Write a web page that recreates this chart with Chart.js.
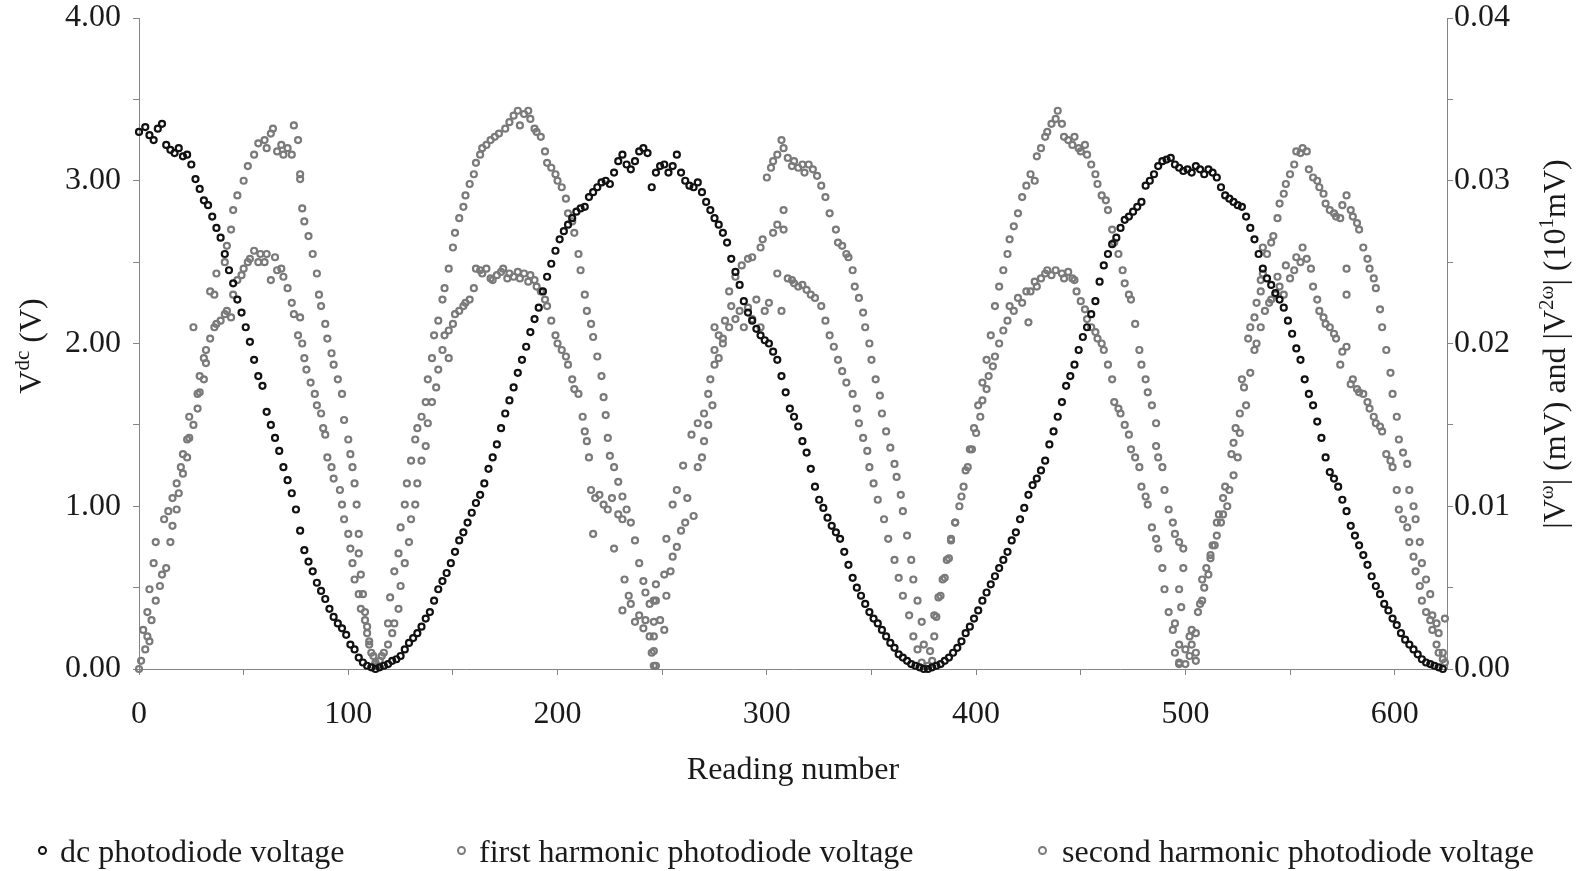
<!DOCTYPE html>
<html>
<head>
<meta charset="utf-8">
<script src="https://cdn.jsdelivr.net/npm/chart.js@4.4.1/dist/chart.umd.min.js"></script>
<style>
    body { margin: 0; background: #fff; }
    #wrap { position: relative; width: 1584px; height: 871px; }
    .leg { position: absolute; top: 831px; font-family: "Liberation Serif", serif; font-size: 32px; line-height: 40px; color: #1a1a1a; white-space: nowrap; }
    .mark { position: absolute; top: 846px; width: 5px; height: 5px; border: 2.2px solid; border-radius: 50%; }
</style>
</head>
<body>
<div id="wrap">
    <canvas id="graficoLeituras" width="1584" height="871"></canvas>
    <div class="mark" style="left:38px;border-color:#111"></div>
    <div class="leg" style="left:60px">dc photodiode voltage</div>
    <div class="mark" style="left:457px;border-color:#7a7a7a"></div>
    <div class="leg" style="left:479px">first harmonic photodiode voltage</div>
    <div class="mark" style="left:1038px;border-color:#7a7a7a"></div>
    <div class="leg" style="left:1062px">second harmonic photodiode voltage</div>
</div>
<script>
// leituras: [reading number, value]
const dcVoltage = [
    [0,3.30],[3,3.33],[5,3.28],[7,3.25],[9,3.32],[11,3.35],[13,3.22],[15,3.19],[17,3.17],[19,3.20],
    [21,3.15],[23,3.16],[25,3.10],[27,3.01],[29,2.95],[31,2.88],[33,2.85],[35,2.78],[37,2.71],[39,2.65],
    [41,2.55],[43,2.45],[45,2.37],[47,2.27],[49,2.19],[51,2.10],[53,2.01],[55,1.90],[57,1.80],[59,1.74],
    [61,1.58],[63,1.50],[65,1.42],[67,1.34],[69,1.24],[71,1.16],[73,1.08],[75,0.98],[77,0.85],[79,0.73],
    [81,0.66],[83,0.60],[85,0.53],[87,0.48],[89,0.43],[91,0.37],[93,0.32],[95,0.28],[97,0.25],[99,0.21],
    [101,0.15],[103,0.12],[105,0.07],[107,0.04],[109,0.02],[111,0.01],[113,0.00],[115,0.01],[117,0.02],[119,0.03],
    [121,0.05],[123,0.06],[125,0.08],[127,0.12],[129,0.16],[131,0.19],[133,0.22],[135,0.26],[137,0.31],[139,0.35],
    [141,0.42],[143,0.49],[145,0.54],[147,0.59],[149,0.65],[151,0.72],[153,0.79],[155,0.84],[157,0.90],[159,0.96],
    [161,1.02],[163,1.07],[165,1.14],[167,1.23],[169,1.30],[171,1.38],[173,1.48],[175,1.57],[177,1.65],[179,1.73],
    [181,1.82],[183,1.90],[185,1.98],[187,2.07],[189,2.15],[191,2.22],[193,2.32],[195,2.41],[197,2.49],[199,2.57],
    [201,2.64],[203,2.69],[205,2.73],[207,2.77],[209,2.81],[211,2.83],[213,2.84],[215,2.90],[217,2.93],[219,2.96],
    [221,2.99],[223,3.00],[225,2.98],[227,3.05],[229,3.12],[231,3.16],[233,3.10],[235,3.07],[237,3.12],[239,3.18],
    [241,3.20],[243,3.17],[245,2.96],[247,3.05],[249,3.09],[251,3.10],[253,3.05],[255,3.09],[257,3.16],[259,3.05],
    [261,3.00],[263,2.97],[265,2.96],[267,2.99],[269,2.93],[271,2.87],[273,2.82],[275,2.77],[277,2.73],[279,2.68],
    [281,2.62],[283,2.52],[285,2.44],[287,2.36],[289,2.26],[291,2.19],[293,2.14],[295,2.09],[297,2.05],[299,2.02],
    [301,2.00],[303,1.95],[305,1.90],[307,1.80],[309,1.70],[311,1.60],[313,1.55],[315,1.49],[317,1.40],[319,1.33],
    [321,1.23],[323,1.12],[325,1.04],[327,0.99],[329,0.93],[331,0.88],[333,0.84],[335,0.80],[337,0.72],[339,0.64],
    [341,0.56],[343,0.50],[345,0.45],[347,0.40],[349,0.35],[351,0.31],[353,0.28],[355,0.24],[357,0.20],[359,0.16],
    [361,0.13],[363,0.09],[365,0.07],[367,0.05],[369,0.03],[371,0.02],[373,0.01],[375,0.00],[377,0.00],[379,0.01],
    [381,0.02],[383,0.03],[385,0.05],[387,0.07],[389,0.10],[391,0.13],[393,0.17],[395,0.22],[397,0.26],[399,0.31],
    [401,0.36],[403,0.42],[405,0.47],[407,0.52],[409,0.57],[411,0.62],[413,0.67],[415,0.72],[417,0.79],[419,0.84],
    [421,0.92],[423,0.99],[425,1.07],[427,1.13],[429,1.17],[431,1.22],[433,1.28],[435,1.38],[437,1.46],[439,1.55],
    [441,1.64],[443,1.74],[445,1.80],[447,1.87],[449,1.96],[451,2.04],[453,2.10],[455,2.18],[457,2.26],[459,2.38],
    [461,2.48],[463,2.55],[465,2.61],[467,2.65],[469,2.71],[471,2.76],[473,2.78],[475,2.81],[477,2.84],[479,2.87],
    [481,2.97],[483,3.00],[485,3.04],[487,3.09],[489,3.12],[491,3.13],[493,3.14],[495,3.10],[497,3.08],[499,3.06],
    [501,3.07],[503,3.05],[505,3.09],[507,3.07],[509,3.04],[511,3.07],[513,3.05],[515,3.02],[517,2.96],[519,2.91],
    [521,2.89],[523,2.87],[525,2.85],[527,2.84],[529,2.78],[531,2.71],[533,2.64],[535,2.55],[537,2.46],[539,2.40],
    [541,2.36],[543,2.31],[545,2.27],[547,2.22],[549,2.14],[551,2.06],[553,1.97],[555,1.90],[557,1.78],[559,1.69],
    [561,1.62],[563,1.52],[565,1.42],[567,1.30],[569,1.21],[571,1.17],[573,1.12],[575,1.04],[577,0.97],[579,0.88],
    [581,0.82],[583,0.76],[585,0.70],[587,0.64],[589,0.57],[591,0.51],[593,0.46],[595,0.40],[597,0.36],[599,0.31],
    [601,0.27],[603,0.22],[605,0.18],[607,0.15],[609,0.12],[611,0.09],[613,0.06],[615,0.04],[617,0.03],[619,0.02],
    [621,0.01],[623,0.00]
];

const firstHarmonic = [
    [0,.0000],[2,.0024],[4,.0035],[5,.0049],[7,.0065],[8,.0078],[12,.0092],[14,.0097],[16,.0105],[18,.0114],
    [20,.0124],[21,.0132],[23,.0141],[24,.0155],[28,.0169],[29,.0180],[31,.0191],[32,.0196],[34,.0203],[36,.0230],
    [37,.0243],[41,.0250],[42,.0260],[44,.0270],[45,.0282],[47,.0291],[50,.0300],[52,.0309],[55,.0316],[57,.0323],
    [60,.0325],[61,.0320],[63,.0329],[64,.0332],[66,.0318],[68,.0322],[69,.0316],[71,.0320],[73,.0316],[74,.0334],
    [76,.0325],[77,.0304],[77,.0301],[78,.0283],[79,.0275],[81,.0266],[83,.0255],[85,.0243],[86,.0230],[87,.0223],
    [89,.0212],[90,.0203],[92,.0194],[93,.0187],[95,.0178],[97,.0169],[98,.0153],[100,.0141],[101,.0132],[102,.0124],
    [103,.0114],[104,.0101],[105,.0083],[105,.0071],[106,.0058],[107,.0046],[108,.0035],[109,.0026],[110,.0017],[111,.0010],
    [113,.0003],
    [115,.0005],[117,.0010],[119,.0028],[120,.0044],[122,.0060],[124,.0071],[125,.0087],[127,.0101],[128,.0114],[130,.0128],
    [132,.0141],[133,.0148],[135,.0155],[137,.0164],[138,.0178],[140,.0191],[141,.0205],[143,.0214],[145,.0227],[146,.0234],
    [148,.0246],[150,.0259],[151,.0268],[153,.0277],[155,.0284],[156,.0291],[158,.0298],[160,.0304],[161,.0311],[163,.0316],
    [164,.0320],[166,.0322],[168,.0325],[170,.0327],[172,.0329],[175,.0332],[177,.0336],[179,.0340],[181,.0343],[182,.0334],
    [184,.0341],[186,.0343],[187,.0338],[189,.0332],[190,.0330],[192,.0327],[194,.0318],[195,.0311],[197,.0308],[199,.0304],
    [200,.0300],[202,.0296],[204,.0289],[205,.0280],[207,.0275],[208,.0268],[210,.0255],[211,.0245],[213,.0230],[214,.0220],
    [216,.0212],[217,.0204],[219,.0192],[221,.0180],[222,.0167],[223,.0156],[224,.0142],[225,.0131],[227,.0124],[229,.0115],
    [231,.0106],[233,.0098],[235,.0090],[237,.0079],[239,.0065],[241,.0054],[242,.0047],[244,.0040],[246,.0029],[246,.0011],
    [247,.0002],
    [246,.0042],[247,.0052],[251,.0058],[252,.0080],[255,.0101],[257,.0110],[260,.0125],[264,.0144],[267,.0151],[270,.0157],
    [272,.0169],[273,.0178],[275,.0187],[277,.0191],[279,.0200],[282,.0232],[285,.0241],[288,.0248],[291,.0252],[293,.0253],
    [297,.0259],[298,.0264],[300,.0302],[302,.0308],[303,.0312],[305,.0316],[307,.0325],[308,.0320],[310,.0314],[312,.0309],
    [313,.0312],[315,.0308],[317,.0310],[318,.0305],[320,.0310],[322,.0307],[324,.0303],[326,.0297],[328,.0290],[330,.0280],
    [333,.0270],[334,.0262],[336,.0260],[338,.0255],[339,.0253],[341,.0245],[342,.0235],[344,.0228],[346,.0219],[347,.0210],
    [349,.0200],[350,.0190],[352,.0178],[354,.0168],[355,.0157],[357,.0146],[359,.0136],[361,.0126],[362,.0118],[364,.0107],
    [365,.0097],[367,.0082],[369,.0067],[370,.0055],[372,.0042],[374,.0029],[375,.0015],[377,.0002],
    [378,.0011],[380,.0020],[381,.0032],[383,.0045],[385,.0056],[387,.0068],[388,.0080],[390,.0090],[393,.0106],[395,.0122],
    [397,.0135],[399,.0148],[401,.0162],[403,.0176],[405,.0190],[407,.0205],[409,.0223],[411,.0235],[413,.0245],[415,.0255],
    [416,.0264],[418,.0272],[420,.0280],[422,.0290],[424,.0297],[426,.0304],[428,.0300],[429,.0315],[431,.0320],[433,.0327],
    [434,.0330],[436,.0335],[438,.0338],[439,.0343],[441,.0335],[442,.0327],[444,.0325],[446,.0322],[447,.0327],[449,.0320],
    [450,.0318],[452,.0322],[453,.0316],[455,.0310],[457,.0304],[458,.0298],[460,.0291],[462,.0288],[463,.0282],[465,.0270],
    [466,.0262],[468,.0255],[470,.0245],[471,.0237],[473,.0230],[474,.0227],[476,.0212],[478,.0196],[479,.0187],[481,.0178],
    [482,.0170],[484,.0162],[486,.0151],[486,.0137],[487,.0130],[489,.0124],[490,.0110],[492,.0098],[494,.0090],[495,.0083],
    [497,.0078],[499,.0074],[499,.0062],[497,.0049],[498,.0038],[495,.0028],[497,.0015],[497,.0003],
    [500,.0012],[502,.0020],[503,.0024],[505,.0005],[505,.0010],[507,.0040],[508,.0055],[510,.0062],[512,.0070],[513,.0076],
    [515,.0090],[516,.0095],[518,.0105],[519,.0112],[522,.0132],[523,.0139],[524,.0148],[526,.0157],[527,.0178],[530,.0203],
    [531,.0210],[533,.0216],[534,.0225],[536,.0232],[537,.0243],[539,.0255],[541,.0262],[542,.0266],[544,.0277],[545,.0286],
    [547,.0292],[548,.0298],[550,.0304],[552,.0310],[553,.0318],[555,.0317],[556,.0320],[558,.0318],[559,.0307],[561,.0302],
    [563,.0300],[564,.0296],[566,.0292],[567,.0286],[569,.0282],[571,.0280],[572,.0278],[574,.0277],[575,.0285],[577,.0291],
    [579,.0282],[580,.0278],[582,.0274],[583,.0270],[585,.0259],[587,.0252],[588,.0246],[590,.0240],[591,.0234],[593,.0221],
    [594,.0210],[596,.0196],[598,.0182],[599,.0169],[601,.0155],[602,.0141],[604,.0133],[606,.0126],[607,.0110],[609,.0100],
    [610,.0092],[612,.0078],[613,.0065],[615,.0055],[617,.0046],[618,.0033],[620,.0028],[621,.0022],[623,.0010],[624,.0004]
];

const secondHarmonic = [
    [1,.0005],[3,.0012],[4,.0020],[5,.0017],[6,.0030],[8,.0042],[10,.0051],[11,.0058],[13,.0062],[15,.0078],
    [16,.0088],[18,.0098],[19,.0108],[21,.0120],[23,.0130],[24,.0142],[26,.0150],[26,.0210],[28,.0160],[29,.0170],
    [31,.0178],[32,.0188],[34,.0232],[36,.0210],[37,.0212],[39,.0214],[41,.0218],[42,.0220],[44,.0216],[45,.0230],
    [47,.0239],[49,.0242],[50,.0246],[52,.0250],[53,.0252],[55,.0257],[57,.0250],[58,.0255],[60,.0250],[61,.0255],
    [63,.0239],[65,.0253],[66,.0245],[68,.0246],[69,.0241],[71,.0234],[73,.0225],[74,.0218],[76,.0205],[77,.0216],
    [78,.0200],[79,.0191],[80,.0184],[82,.0176],[84,.0169],[85,.0162],[87,.0157],[88,.0148],[89,.0144],[90,.0130],
    [92,.0124],[93,.0117],[96,.0110],[97,.0101],[98,.0092],[100,.0083],[101,.0074],[102,.0065],[103,.0055],[105,.0046],
    [106,.0037],[108,.0030],[109,.0022],[110,.0015],[112,.0008],[113,.0004],[114,.0002],
    [116,.0008],[119,.0015],[121,.0022],[122,.0028],[124,.0037],[125,.0051],[127,.0065],[129,.0078],[130,.0092],[132,.0101],
    [133,.0114],[135,.0128],[137,.0137],[138,.0151],[140,.0164],[142,.0173],[143,.0184],[145,.0196],[146,.0205],[148,.0191],
    [148,.0208],[150,.0212],[151,.0218],[153,.0220],[155,.0223],[156,.0225],[158,.0227],[160,.0234],[161,.0246],[163,.0245],
    [164,.0243],[166,.0246],[168,.0240],[169,.0239],[171,.0242],[173,.0244],[174,.0246],[176,.0240],[177,.0243],[179,.0241],
    [181,.0244],[182,.0240],[184,.0243],[186,.0238],[187,.0242],[189,.0239],[190,.0235],[192,.0232],[194,.0227],[195,.0223],
    [197,.0214],[199,.0205],[200,.0200],[202,.0196],[204,.0192],[205,.0187],[207,.0178],[208,.0172],[210,.0169],[212,.0155],
    [213,.0146],[214,.0140],[215,.0130],[216,.0110],[217,.0083],[218,.0105],[220,.0107],[222,.0101],[224,.0098],[226,.0105],
    [227,.0074],[229,.0095],[231,.0092],[231,.0036],[232,.0055],[234,.0045],[235,.0040],[237,.0029],[239,.0033],[241,.0025],
    [242,.0030],[244,.0020],[245,.0010],[246,.0002],
    [246,.0020],[247,.0042],[249,.0030],[251,.0024],[252,.0045],[254,.0060],[255,.0069],[257,.0075],[259,.0085],[261,.0090],
    [262,.0105],[265,.0094],[267,.0124],[269,.0130],[270,.0140],[272,.0150],[274,.0162],[275,.0196],[275,.0210],[277,.0205],
    [279,.0203],[280,.0214],[282,.0210],[283,.0223],[285,.0215],[287,.0220],[289,.0210],[291,.0222],[293,.0215],[295,.0227],
    [297,.0210],[299,.0220],[301,.0225],[303,.0268],[305,.0273],[305,.0243],[307,.0220],[308,.0270],[308,.0282],[310,.0240],
    [312,.0239],[313,.0237],[315,.0235],[317,.0236],[319,.0233],[321,.0230],[323,.0228],[326,.0223],[328,.0214],[330,.0205],
    [332,.0198],[334,.0190],[336,.0183],[338,.0176],[341,.0169],[343,.0160],[344,.0151],[346,.0142],[348,.0134],[349,.0124],
    [351,.0114],[353,.0104],[356,.0092],[358,.0080],[361,.0067],[363,.0056],[365,.0045],[368,.0033],[370,.0020],[372,.0012],
    [374,.0004],
    [379,.0005],[380,.0033],[382,.0044],[384,.0055],[386,.0067],[388,.0079],[390,.0090],[392,.0100],[394,.0112],[396,.0124],
    [398,.0135],[400,.0145],[402,.0155],[403,.0165],[405,.0172],[406,.0180],[408,.0186],[409,.0192],[411,.0200],[413,.0208],
    [415,.0214],[416,.0223],[418,.0220],[420,.0228],[422,.0225],[424,.0232],[425,.0213],[426,.0232],[428,.0238],[429,.0235],
    [431,.0240],[433,.0243],[434,.0245],[436,.0242],[438,.0245],[441,.0243],[442,.0240],[444,.0244],[446,.0240],[447,.0239],
    [448,.0232],[450,.0226],[452,.0221],[453,.0215],[455,.0210],[457,.0207],[458,.0203],[460,.0200],[461,.0196],[463,.0187],
    [465,.0178],[466,.0164],[468,.0160],[469,.0157],[471,.0150],[473,.0144],[474,.0135],[476,.0130],[478,.0124],[479,.0112],
    [481,.0106],[482,.0101],[484,.0087],[486,.0080],[487,.0074],[489,.0062],[490,.0049],[492,.0035],[494,.0024],[495,.0010],
    [497,.0004],
    [500,.0003],[502,.0008],[503,.0015],[505,.0022],[506,.0035],[508,.0042],[509,.0050],[511,.0058],[512,.0068],[514,.0076],
    [515,.0082],[517,.0090],[518,.0095],[520,.0100],[521,.0110],[523,.0119],[525,.0130],[526,.0145],[528,.0173],[529,.0162],
    [531,.0182],[533,.0196],[534,.0200],[536,.0239],[536,.0210],[537,.0259],[538,.0220],[540,.0225],[541,.0227],[543,.0230],
    [544,.0241],[545,.0235],[547,.0230],[548,.0248],[550,.0240],[552,.0245],[553,.0253],[555,.0250],[556,.0259],[558,.0252],
    [560,.0246],[561,.0235],[563,.0227],[564,.0220],[566,.0216],[567,.0212],[569,.0210],[571,.0206],[572,.0203],[574,.0187],
    [575,.0195],[577,.0198],[577,.0230],[577,.0246],[579,.0175],[580,.0178],[582,.0172],[583,.0170],[585,.0169],[587,.0164],
    [588,.0160],[590,.0155],[591,.0151],[593,.0149],[594,.0146],[596,.0132],[598,.0128],[599,.0124],[601,.0110],[602,.0098],
    [604,.0092],[606,.0087],[607,.0078],[609,.0069],[610,.0060],[612,.0051],[613,.0042],[615,.0035],[617,.0030],[618,.0024],
    [620,.0015],[621,.0010],[623,.0006],[624,.0031]
];

const leftTicks = [0, 1, 2, 3, 4];
const rightTicks = [0, 0.01, 0.02, 0.03, 0.04];
const readingTicks = [0, 100, 200, 300, 400, 500, 600];

const fonte = { family: 'Liberation Serif', size: 32 };
const corTexto = '#1a1a1a';
const corEixo = '#858585';

function pontos(lista) {
    return lista.map(p => ({ x: p[0], y: p[1] }));
}

// largura fixa do eixo y, sem folga extra em cima/baixo
function fixaLargura(largura) {
    return s => {
        s.width = largura;
        s.paddingTop = 0;
        s.paddingBottom = 0;
    };
}

// titulos dos eixos y com sobrescrito
function textoRico(ctx, partes, cx, cy) {
    let largura = 0;
    partes.forEach(p => {
        ctx.font = (p.sup ? 21 : 32) + 'px "Liberation Serif"';
        p.w = ctx.measureText(p.t).width;
        largura += p.w;
    });
    ctx.save();
    ctx.translate(cx, cy);
    ctx.rotate(-Math.PI / 2);
    ctx.fillStyle = corTexto;
    ctx.textBaseline = 'alphabetic';
    let x = -largura / 2;
    partes.forEach(p => {
        ctx.font = (p.sup ? 21 : 32) + 'px "Liberation Serif"';
        ctx.fillText(p.t, x, p.sup ? -1 : 11);
        x += p.w;
    });
    ctx.restore();
}

const titulosY = {
    id: 'titulosY',
    afterDraw(chart) {
        const ctx = chart.ctx;
        textoRico(ctx, [{ t: 'V' }, { t: 'dc', sup: true }, { t: ' (V)' }], 30, 346);
        textoRico(ctx, [
            { t: '|V' }, { t: 'ω', sup: true }, { t: '| (mV) and |V' }, { t: '2ω', sup: true },
            { t: '| (10' }, { t: '1', sup: true }, { t: 'mV)' }
        ], 1554, 344);
    }
};

new Chart(document.getElementById('graficoLeituras'), {
    type: 'scatter',
    data: {
        datasets: [{
            label: 'dc photodiode voltage',
            data: pontos(dcVoltage),
            yAxisID: 'y',
            borderColor: '#111',
            backgroundColor: 'rgba(0,0,0,0)',
            pointRadius: 3,
            borderWidth: 2.2,
            clip: false
        }, {
            label: 'first harmonic photodiode voltage',
            data: pontos(firstHarmonic),
            yAxisID: 'y1',
            borderColor: '#7a7a7a',
            backgroundColor: 'rgba(0,0,0,0)',
            pointRadius: 3,
            borderWidth: 2.2,
            clip: false
        }, {
            label: 'second harmonic photodiode voltage',
            data: pontos(secondHarmonic),
            yAxisID: 'y1',
            borderColor: '#7a7a7a',
            backgroundColor: 'rgba(0,0,0,0)',
            pointRadius: 3,
            borderWidth: 2.2,
            clip: false
        }]
    },
    options: {
        responsive: false,
        animation: false,
        devicePixelRatio: 1,
        layout: { padding: { top: 18, left: 0, right: 0, bottom: 0 } },
        plugins: {
            legend: { display: false },
            tooltip: { enabled: false }
        },
        scales: {
            x: {
                type: 'linear',
                min: 0,
                max: 625,
                afterFit: s => { s.height = 202; },
                border: { color: corEixo },
                grid: { drawOnChartArea: false, tickLength: 6, color: corEixo },
                ticks: {
                    stepSize: 50,
                    includeBounds: false,
                    autoSkip: false,
                    maxRotation: 0,
                    padding: 20,
                    font: fonte,
                    color: corTexto,
                    callback: v => readingTicks.includes(v) ? String(v) : ''
                },
                title: {
                    display: true,
                    text: 'Reading number',
                    font: fonte,
                    color: corTexto,
                    padding: { top: 0, bottom: 81 }
                }
            },
            y: {
                position: 'left',
                min: 0,
                max: 4,
                afterFit: fixaLargura(139),
                border: { color: corEixo },
                grid: { drawOnChartArea: false, tickLength: 6, color: corEixo },
                ticks: {
                    stepSize: 0.5,
                    padding: 12,
                    font: fonte,
                    color: corTexto,
                    callback: v => leftTicks.includes(v) ? v.toFixed(2) : ''
                }
            },
            y1: {
                position: 'right',
                min: 0,
                max: 0.04,
                afterFit: fixaLargura(137),
                border: { color: corEixo },
                grid: { drawOnChartArea: false, tickLength: 6, color: corEixo },
                ticks: {
                    stepSize: 0.005,
                    padding: 1,
                    font: fonte,
                    color: corTexto,
                    callback: v => rightTicks.some(t => Math.abs(t - v) < 1e-9) ? v.toFixed(2) : ''
                }
            }
        }
    },
    plugins: [titulosY]
});
</script>
</body>
</html>
